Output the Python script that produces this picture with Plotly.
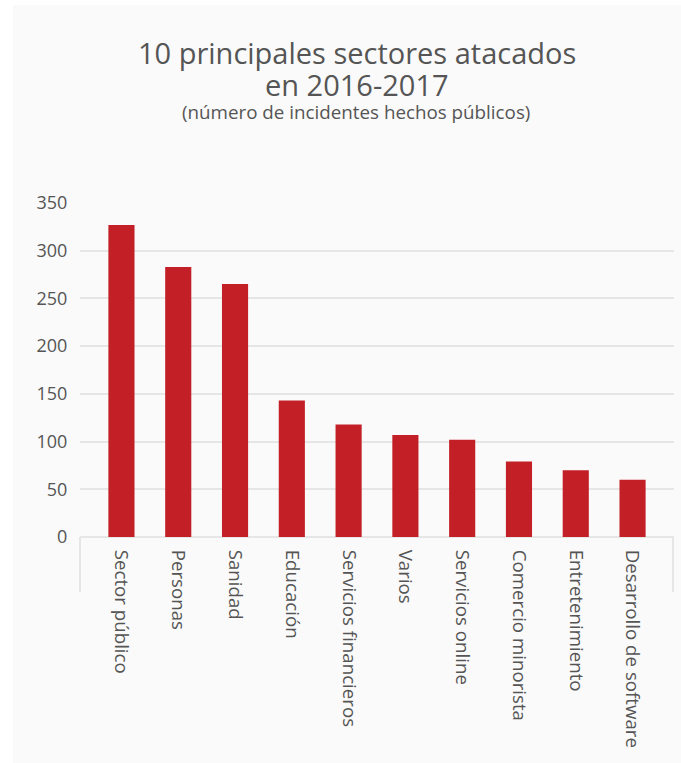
import plotly.graph_objects as go

categories = ["Sector público", "Personas", "Sanidad", "Educación", "Servicios financieros",
              "Varios", "Servicios online", "Comercio minorista", "Entretenimiento",
              "Desarrollo de software"]
values = [327, 283, 265, 143, 118, 107, 102, 79, 70, 60]
y_ticks = [0, 50, 100, 150, 200, 250, 300, 350]

W, H = 681, 763
L, R, T, B = 80, 7, 203, 226
pw, ph = W - L - R, H - T - B

def px_x(x):
    return (x - L) / pw

def px_y(y):
    return (H - B - y) / ph

TXT = "#555555"
FONT = "Open Sans"

fig = go.Figure(go.Bar(
    x=categories, y=values, marker_color="#c21f26", width=0.46,
    marker_line_width=0, hoverinfo="x+y"))

def txt(s, x, y, size):
    return dict(text=s, xref="paper", yref="paper", x=px_x(x), y=px_y(y),
                xanchor="center", yanchor="middle", showarrow=False, borderpad=0,
                font=dict(size=size, color=TXT, family=FONT))

fig.update_layout(
    width=W, height=H,
    margin=dict(l=L, r=R, t=T, b=B),
    paper_bgcolor="#fafafa", plot_bgcolor="#fafafa",
    font=dict(family=FONT, color=TXT, size=18),
    showlegend=False,
    annotations=[
        txt("10 principales sectores atacados", 357, 53, 29),
        txt("en 2016-2017", 357, 84, 29),
        txt("(número de incidentes hechos públicos)", 356, 111.5, 18.8),
    ],
    shapes=[
        dict(type="rect", xref="paper", yref="paper", x0=px_x(0), x1=px_x(13), y0=px_y(H), y1=px_y(0),
             fillcolor="white", line_width=0, layer="above"),
        dict(type="rect", xref="paper", yref="paper", x0=px_x(0), x1=px_x(W), y0=px_y(5), y1=px_y(0),
             fillcolor="white", line_width=0, layer="above"),
        dict(type="line", xref="paper", yref="paper", x0=px_x(80), x1=px_x(80), y0=0, y1=px_y(592),
             line=dict(color="#e6e6e6", width=2)),
        dict(type="line", xref="paper", yref="paper", x0=px_x(673), x1=px_x(673), y0=0, y1=px_y(592),
             line=dict(color="#e6e6e6", width=2)),
    ],
    xaxis=dict(range=[-0.73, 9.73], tickangle=90, ticks="outside", ticklen=8,
               tickcolor="rgba(0,0,0,0)", showgrid=False, showline=False, zeroline=False,
               tickfont=dict(size=18.7, color=TXT, family=FONT), fixedrange=True),
    yaxis=dict(range=[0, 350], tickvals=y_ticks, ticks="outside", ticklen=8,
               tickcolor="rgba(0,0,0,0)", showgrid=True, gridcolor="#e6e6e6", gridwidth=2,
               zeroline=True, zerolinecolor="#e6e6e6", zerolinewidth=2, showline=False,
               tickfont=dict(size=18, color=TXT, family=FONT), fixedrange=True),
)

fig.write_html("out.html", config={"displayModeBar": False},
               post_script="document.body.style.margin='0px';")
